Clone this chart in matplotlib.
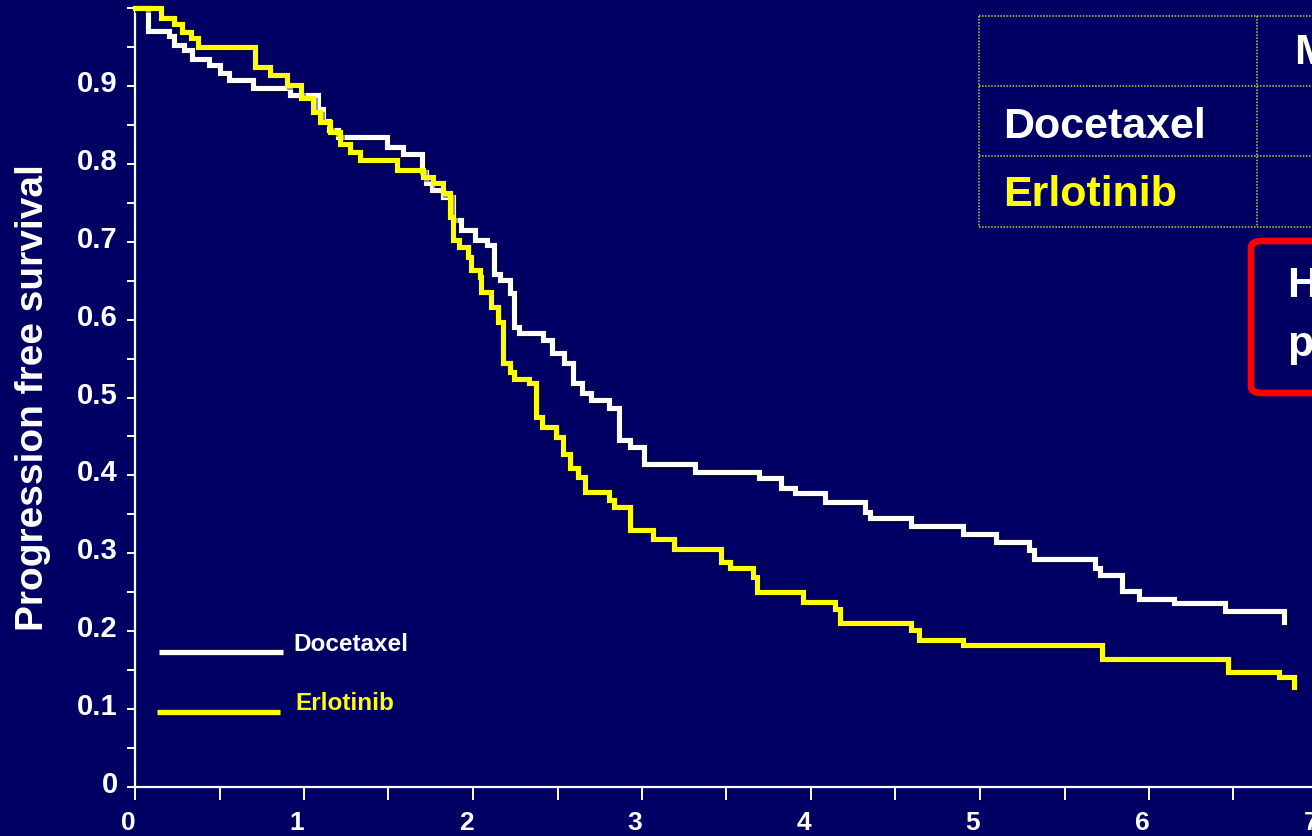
import matplotlib
matplotlib.use("Agg")
import matplotlib.pyplot as plt
from matplotlib.lines import Line2D
from matplotlib.patches import FancyBboxPatch
from matplotlib.ticker import MultipleLocator, FixedLocator, FixedFormatter
from matplotlib import patheffects as pe
from matplotlib.transforms import ScaledTranslation

# ---- Kaplan-Meier step data (months, progression free survival) ----
doc_t = [0, 0.075, 0.20, 0.23, 0.29, 0.34, 0.44, 0.50, 0.555, 0.70, 0.92, 1.08,
         1.11, 1.15, 1.20, 1.49, 1.585, 1.70, 1.72, 1.76, 1.82, 1.88, 1.93, 2.01,
         2.08, 2.127, 2.157, 2.216, 2.245, 2.275, 2.412, 2.47, 2.54, 2.59, 2.646,
         2.70, 2.805, 2.864, 2.93, 3.01, 3.316, 3.69, 3.82, 3.905, 4.08, 4.32,
         4.35, 4.59, 4.897, 5.093, 5.29, 5.32, 5.683, 5.71, 5.84, 5.94, 6.15,
         6.45, 6.80]
doc_s = [1.0, 0.971, 0.964, 0.952, 0.946, 0.935, 0.927, 0.916, 0.907, 0.897, 0.888,
         0.870, 0.855, 0.843, 0.835, 0.822, 0.813, 0.790, 0.775, 0.766, 0.758,
         0.728, 0.715, 0.702, 0.696, 0.659, 0.651, 0.634, 0.591, 0.583, 0.574,
         0.557, 0.544, 0.518, 0.506, 0.497, 0.487, 0.445, 0.437, 0.415, 0.405,
         0.397, 0.384, 0.377, 0.366, 0.353, 0.345, 0.335, 0.325, 0.314, 0.304,
         0.293, 0.281, 0.272, 0.251, 0.241, 0.236, 0.226, 0.212]

erl_t = [0, 0.153, 0.232, 0.28, 0.33, 0.37, 0.71, 0.80, 0.90, 0.98, 1.055, 1.096,
         1.155, 1.214, 1.273, 1.33, 1.548, 1.705, 1.764, 1.823, 1.862, 1.88, 1.92,
         1.97, 1.99, 2.04, 2.05, 2.108, 2.147, 2.176, 2.216, 2.245, 2.33, 2.372,
         2.41, 2.49, 2.53, 2.575, 2.62, 2.66, 2.805, 2.834, 2.93, 3.067, 3.19,
         3.47, 3.52, 3.656, 3.68, 3.95, 4.14, 4.17, 4.59, 4.64, 4.90, 5.72, 6.47,
         6.77, 6.86]
erl_s = [1.0, 0.987, 0.980, 0.969, 0.961, 0.950, 0.924, 0.914, 0.901, 0.884, 0.866,
         0.854, 0.841, 0.826, 0.815, 0.805, 0.792, 0.783, 0.775, 0.762, 0.732,
         0.702, 0.693, 0.681, 0.664, 0.655, 0.636, 0.616, 0.597, 0.544, 0.533,
         0.524, 0.518, 0.475, 0.462, 0.449, 0.428, 0.410, 0.398, 0.379, 0.368,
         0.360, 0.330, 0.318, 0.306, 0.289, 0.281, 0.270, 0.250, 0.238, 0.229,
         0.211, 0.2015, 0.189, 0.182, 0.164, 0.148, 0.141, 0.128]

x_ticks_major = [0, 1, 2, 3, 4, 5, 6, 7]
x_tick_labels = ["0", "1", "2", "3", "4", "5", "6", "7"]
y_ticks_major = [0, 0.1, 0.2, 0.3, 0.4, 0.5, 0.6, 0.7, 0.8, 0.9, 1.0]
y_tick_labels = ["0", "0.1", "0.2", "0.3", "0.4", "0.5", "0.6", "0.7", "0.8", "0.9", ""]

series_names = ["Docetaxel", "Erlotinib"]
series_colors = ["#FFFFFF", "#FFFF00"]
table_header = "Median PFS"
box_lines = ["HR = 0.71", "p = 0.02"]

BG = "#000064"
W, H = 1312, 836

def fx(px):
    return px / W

def fy(py):
    return 1 - py / H

fig = plt.figure(figsize=(W / 100, H / 100), dpi=100, facecolor=BG)

# axes: x=0 at px 135, 169 px per month; y=0 at px 787, y=1 at px 8
x_scale = 169.0
ax = fig.add_axes([fx(135), fy(787), 7.5 * x_scale / W, (787 - 8) / H])
ax.set_facecolor(BG)
ax.set_xlim(0, 7.5)
ax.set_ylim(0, 1.0)

shadow = [pe.SimpleLineShadow(offset=(1.5, -1.5), shadow_color="black", alpha=0.4),
          pe.Normal()]
for t, s, c in [(doc_t, doc_s, series_colors[0]), (erl_t, erl_s, series_colors[1])]:
    ax.step(t, s, where="post", color=c, lw=3.7, clip_on=False,
            solid_joinstyle="miter", path_effects=shadow, zorder=3)

# spines
for side in ["top", "right"]:
    ax.spines[side].set_visible(False)
for side in ["left", "bottom"]:
    ax.spines[side].set_color("white")
    ax.spines[side].set_linewidth(1.6)

# ticks
bold_sans = ["Liberation Sans", "DejaVu Sans"]
ax.xaxis.set_major_locator(FixedLocator(x_ticks_major))
ax.xaxis.set_major_formatter(FixedFormatter(x_tick_labels))
ax.xaxis.set_minor_locator(MultipleLocator(0.5))
ax.yaxis.set_major_locator(FixedLocator(y_ticks_major))
ax.yaxis.set_major_formatter(FixedFormatter(y_tick_labels))
ax.yaxis.set_minor_locator(FixedLocator([0.05 + 0.1 * i for i in range(10)]))

ax.tick_params(axis="x", which="both", direction="out", length=9.5, width=1.4,
               colors="white", pad=8)
ax.tick_params(axis="y", which="both", direction="out", length=5.5, width=1.4,
               colors="white", pad=7)
for lab in ax.get_xticklabels():
    lab.set_fontfamily(bold_sans)
    lab.set_fontweight("bold")
    lab.set_fontsize(19)
    lab.set_color("white")
    lab.set_transform(lab.get_transform() + ScaledTranslation(-0.07, 0, fig.dpi_scale_trans))
for lab in ax.get_yticklabels():
    lab.set_fontfamily(bold_sans)
    lab.set_fontweight("bold")
    lab.set_fontsize(21)
    lab.set_color("white")
    lab.set_transform(lab.get_transform() + ScaledTranslation(0, 0.05, fig.dpi_scale_trans))

fig.text(fx(33), fy(398), "Progression free survival", rotation=90,
         ha="center", va="center", color="white", fontsize=28, fontweight="bold",
         family=bold_sans)

# legend
for (x0, x1, y), c in zip([(159, 283, 652), (157, 280, 712)], series_colors):
    fig.add_artist(Line2D([fx(x0), fx(x1)], [fy(y), fy(y)], color=c, lw=3.8,
                          solid_capstyle="butt"))
fig.text(fx(293), fy(651), series_names[0], color=series_colors[0], fontsize=17.5,
         fontweight="bold", family=bold_sans, ha="left", va="baseline")
fig.text(fx(295), fy(710), series_names[1], color=series_colors[1], fontsize=17.5,
         fontweight="bold", family=bold_sans, ha="left", va="baseline")

# summary table (dotted grid)
grid_kw = dict(color="#C8C83C", lw=1.1, linestyle=(0, (1, 1)))
for y in [16, 86, 156, 227]:
    fig.add_artist(Line2D([fx(979), fx(1330)], [fy(y), fy(y)], **grid_kw))
for x in [979, 1257]:
    fig.add_artist(Line2D([fx(x), fx(x)], [fy(16), fy(227)], **grid_kw))

fig.text(fx(1295), fy(64), table_header, color="white", fontsize=31,
         fontweight="bold", family=bold_sans, ha="left", va="baseline")
fig.text(fx(1003), fy(138), series_names[0], color=series_colors[0], fontsize=31,
         fontweight="bold", family=bold_sans, ha="left", va="baseline")
fig.text(fx(1003), fy(206), series_names[1], color=series_colors[1], fontsize=31,
         fontweight="bold", family=bold_sans, ha="left", va="baseline")

# hazard ratio box
box = FancyBboxPatch((fx(1251), fy(393)), fx(1420) - fx(1251), fy(241) - fy(393),
                     boxstyle="round,pad=0,rounding_size=0.008",
                     transform=fig.transFigure, facecolor="none",
                     edgecolor="#FF0000", lw=4.8)
fig.add_artist(box)
fig.text(fx(1288), fy(297), box_lines[0], color="white", fontsize=31,
         fontweight="bold", family=bold_sans, ha="left", va="baseline")
fig.text(fx(1288), fy(356), box_lines[1], color="white", fontsize=31,
         fontweight="bold", family=bold_sans, ha="left", va="baseline")

fig.savefig("out.png", dpi=100, facecolor=BG)
